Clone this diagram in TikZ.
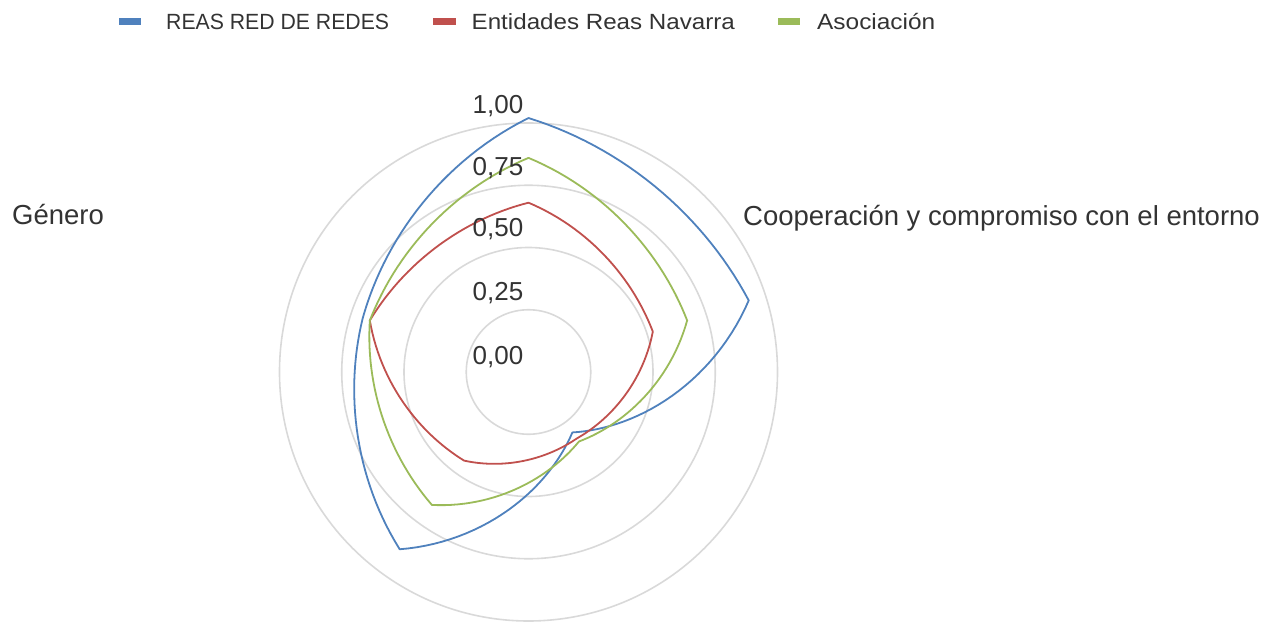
\documentclass[tikz,border=0pt]{standalone}
\usepackage{fontspec}
\setmainfont{Liberation Sans}
\definecolor{sblue}{HTML}{4F81BD}
\definecolor{sred}{HTML}{C0504D}
\definecolor{sgreen}{HTML}{9BBB59}
\definecolor{grid}{HTML}{D9D9D9}
\definecolor{txt}{HTML}{333333}
\tikzset{declare function={
  lam=0.6;
  bx(\A,\P,\Q,\T)=249*((1-lam)*((1-\T)*\P*cos(\A)+\T*\Q*cos(\A-72))+lam*(\P+(\Q-\P)*\T)*cos(\A-72*\T));
  by(\A,\P,\Q,\T)=249*((1-lam)*((1-\T)*\P*sin(\A)+\T*\Q*sin(\A-72))+lam*(\P+(\Q-\P)*\T)*sin(\A-72*\T));
}}
% #1 colour, #2..#6 values on the axes at 90, 18, -54, -126, -198 degrees
\newcommand\radarseries[6]{%
  \draw[#1, series] (90:{249*#2})
    -- plot[domain=0:1,samples=30,variable=\x] ({bx(90,#2,#3,\x)},{by(90,#2,#3,\x)})
    -- plot[domain=0:1,samples=30,variable=\x] ({bx(18,#3,#4,\x)},{by(18,#3,#4,\x)})
    -- plot[domain=0:1,samples=30,variable=\x] ({bx(-54,#4,#5,\x)},{by(-54,#4,#5,\x)})
    -- plot[domain=0:1,samples=30,variable=\x] ({bx(-126,#5,#6,\x)},{by(-126,#5,#6,\x)})
    -- plot[domain=0:1,samples=30,variable=\x] ({bx(-198,#6,#2,\x)},{by(-198,#6,#2,\x)})
    -- cycle;}
\begin{document}
\begin{tikzpicture}[x=1pt,y=1pt,
  gridline/.style={draw=grid, line width=1.6pt},
  series/.style={line width=1.8pt, line join=round},
  vlabel/.style={anchor=east, inner sep=0pt, text=txt, font=\fontsize{26}{30}\selectfont},
  axlabel/.style={anchor=base west, inner sep=0pt, text=txt, font=\fontsize{27.5}{32}\selectfont},
  legtext/.style={anchor=base west, inner sep=0pt, text=txt, font=\fontsize{22}{26}\selectfont},
  legmark/.style={minimum width=22pt, minimum height=7pt, inner sep=0pt}]
\useasboundingbox (-528.5,-252) rectangle (750.5,372);
% grid circles
\foreach \k in {1,2,3,4} \draw[gridline] (0,0) circle ({62.25*\k});
% series
\radarseries{sblue}{1.02}{0.93}{0.30}{0.88}{0.70}
\radarseries{sred}{0.68}{0.525}{0.33}{0.44}{0.67}
\radarseries{sgreen}{0.86}{0.67}{0.345}{0.66}{0.67}
% value labels
\node[vlabel] (l100) at (-5,266) {1,00};
\node[vlabel] (l075) at (-5,204) {0,75};
\node[vlabel] (l050) at (-5,143) {0,50};
\node[vlabel] (l025) at (-5,79) {0,25};
\node[vlabel] (l000) at (-5,15) {0,00};
% axis labels
\node[axlabel] (genero) at (-516.5,147) {Género};
\node[axlabel] (coop) at (214.5,146) {Cooperación y compromiso con el entorno};
% legend
\node[legmark, fill=sblue] (m1) at (-398,350) {};
\node[legtext] (t1) at (-362.5,342) {\scalebox{0.965}[1]{REAS RED DE REDES}};
\node[legmark, fill=sred] (m2) at (-84,350) {};
\node[legtext] (t2) at (-57,342) {\scalebox{1.098}[1]{Entidades Reas Navarra}};
\node[legmark, fill=sgreen] (m3) at (260,350) {};
\node[legtext] (t3) at (288.5,342) {\scalebox{1.11}[1]{Asociación}};
\end{tikzpicture}
\end{document}
